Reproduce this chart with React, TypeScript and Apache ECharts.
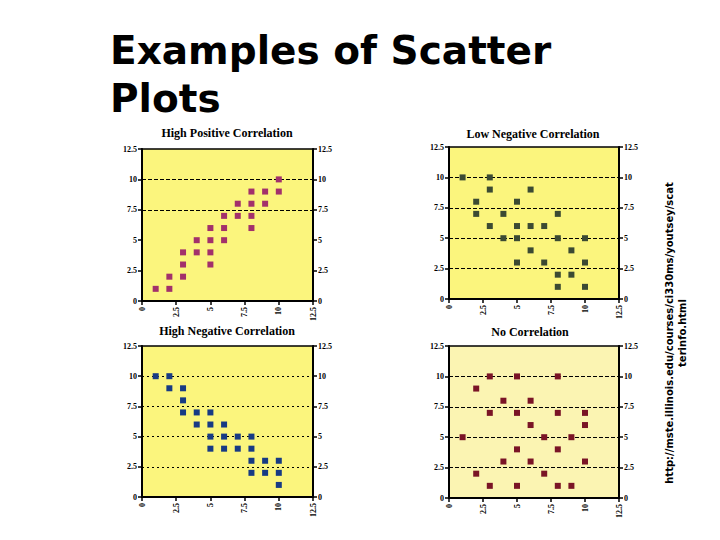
import React, { useEffect, useRef } from "react";
import * as echarts from "echarts";

const mainTitle = "Examples of Scatter\nPlots";
const sourceNote = "http://mste.illinois.edu/courses/ci330ms/youtsey/scat\nterinfo.html";

const panelTitles = [
  "High Positive Correlation",
  "Low Negative Correlation",
  "High Negative Correlation",
  "No Correlation",
];

const highPositive: [number, number][] = [
  [1, 1], [2, 1], [2, 2], [3, 2], [3, 3], [3, 4], [4, 4], [4, 5],
  [5, 3], [5, 4], [5, 5], [5, 6], [6, 5], [6, 6], [6, 7], [7, 7],
  [7, 8], [8, 6], [8, 7], [8, 8], [8, 9], [9, 8], [9, 9], [10, 9], [10, 10],
];

const lowNegative: [number, number][] = [
  [1, 10], [3, 10], [3, 9], [6, 9], [2, 8], [5, 8], [2, 7], [4, 7], [8, 7],
  [3, 6], [5, 6], [6, 6], [7, 6], [4, 5], [5, 5], [8, 5], [10, 5],
  [6, 4], [9, 4], [5, 3], [7, 3], [10, 3], [8, 2], [9, 2], [8, 1], [10, 1],
];

const highNegative: [number, number][] = [
  [1, 10], [2, 10], [2, 9], [3, 9], [3, 8], [3, 7], [4, 7], [5, 7],
  [4, 6], [5, 6], [6, 6], [5, 5], [6, 5], [7, 5], [8, 5],
  [5, 4], [6, 4], [7, 4], [8, 4], [8, 3], [9, 3], [10, 3],
  [8, 2], [9, 2], [10, 2], [10, 1],
];

const noCorrelation: [number, number][] = [
  [3, 10], [5, 10], [8, 10], [2, 9], [4, 8], [6, 8], [3, 7], [5, 7], [8, 7], [10, 7],
  [6, 6], [10, 6], [1, 5], [7, 5], [9, 5], [5, 4], [8, 4], [4, 3], [6, 3], [10, 3],
  [2, 2], [7, 2], [3, 1], [5, 1], [8, 1], [9, 1],
];

const panelData = [highPositive, lowNegative, highNegative, noCorrelation];
const gridLineValues = [[7.5, 10], [2.5, 5, 7.5, 10], [2.5, 5, 7.5, 10], [2.5, 5, 7.5, 10]];

const layout = [
  { left: 142, top: 149, width: 171, height: 152, cx: 227, ty: 127 },
  { left: 449, top: 147, width: 170, height: 152, cx: 533, ty: 128 },
  { left: 142, top: 346, width: 171, height: 151, cx: 227, ty: 325 },
  { left: 449, top: 346, width: 170, height: 152, cx: 530, ty: 326 },
];
const markerColors = ["#a2306b", "#3b4a33", "#173a84", "#7a1426"];
const bgColors = ["#fbf57d", "#fbf57d", "#fbf57d", "#fbf4b2"];
const gridLineTypes: any[] = ["dashed", "dashed", [2, 3], "dashed"];

export default function App() {
  const ref = useRef<HTMLDivElement>(null);
  useEffect(() => {
    if (!ref.current) return;
    const chart = echarts.init(ref.current, undefined, { renderer: "svg" });
    const labelStyle = {
      fontSize: 8,
      fontFamily: "Liberation Serif",
      fontWeight: "bold" as const,
      color: "#000",
    };
    const grids: any[] = [];
    const xAxes: any[] = [];
    const yAxes: any[] = [];
    const series: any[] = [];
    const titles: any[] = [
      {
        text: mainTitle,
        left: 110,
        top: 26,
        padding: 0,
        textStyle: {
          fontSize: 39,
          lineHeight: 48,
          fontFamily: "DejaVu Sans",
          fontWeight: "bold",
          color: "#000",
        },
      },
    ];
    layout.forEach((l, i) => {
      grids.push({
        left: l.left,
        top: l.top,
        width: l.width,
        height: l.height,
        show: true,
        backgroundColor: bgColors[i],
        borderColor: "#000",
        borderWidth: 1.5,
      });
      titles.push({
        text: panelTitles[i],
        left: l.cx,
        top: l.ty,
        padding: 0,
        textAlign: "center",
        textStyle: {
          fontSize: 12,
          fontFamily: "Liberation Serif",
          fontWeight: "bold",
          color: "#000",
        },
      });
      xAxes.push({
        gridIndex: i,
        type: "value",
        min: 0,
        max: 12.5,
        interval: 2.5,
        axisLine: { show: true, onZero: false, lineStyle: { color: "#000", width: 2 } },
        axisTick: { show: true, length: 4, lineStyle: { color: "#000", width: 1.5 } },
        axisLabel: { ...labelStyle, rotate: 90, margin: 6 },
        splitLine: { show: false },
      });
      const yBase = {
        gridIndex: i,
        type: "value",
        min: 0,
        max: 12.5,
        interval: 2.5,
        axisLine: { show: true, onZero: false, lineStyle: { color: "#000", width: 2 } },
        axisTick: { show: true, length: 4, lineStyle: { color: "#000", width: 1.5 } },
        axisLabel: { ...labelStyle, margin: 5 },
        splitLine: { show: false },
      };
      yAxes.push({ ...yBase, position: "left" });
      yAxes.push({ ...yBase, position: "right" });
      series.push({
        type: "scatter",
        xAxisIndex: i,
        yAxisIndex: i * 2,
        data: panelData[i],
        symbolSize: 0,
        silent: true,
        z: 1,
        markLine: {
          silent: true,
          symbol: "none",
          label: { show: false },
          lineStyle: { color: "#000", width: 1, type: gridLineTypes[i] },
          data: gridLineValues[i].map((v) => ({ yAxis: v })),
        },
      });
      series.push({
        type: "scatter",
        xAxisIndex: i,
        yAxisIndex: i * 2,
        data: panelData[i],
        symbol: "rect",
        symbolSize: 6,
        z: 5,
        itemStyle: { color: markerColors[i], opacity: 1 },
      });
    });
    chart.setOption({
      animation: false,
      backgroundColor: "#fff",
      title: titles,
      grid: grids,
      xAxis: xAxes,
      yAxis: yAxes,
      series,
      graphic: [
        {
          type: "text",
          x: 676,
          y: 333,
          rotation: Math.PI / 2,
          style: {
            text: sourceNote,
            fontSize: 10,
            lineHeight: 13,
            fontFamily: "DejaVu Sans",
            fontWeight: "bold",
            fill: "#000",
            textAlign: "center",
            textVerticalAlign: "middle",
          },
        },
      ],
    });
    return () => chart.dispose();
  }, []);
  return (
    <div
      ref={ref}
      style={{ position: "fixed", left: 0, top: 0, width: 720, height: 540 }}
    />
  );
}
